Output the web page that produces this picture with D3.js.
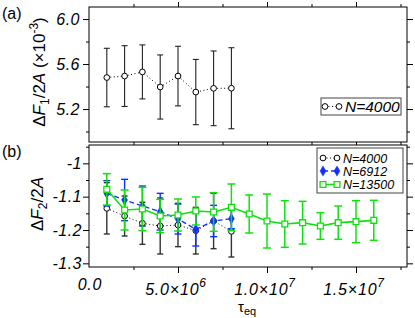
<!DOCTYPE html>
<html>
<head>
<meta charset="utf-8">
<script src="https://cdn.jsdelivr.net/npm/d3@7"></script>
<style>
  body { margin: 0; background: #fff; }
  svg text { font-family: "Liberation Sans", Arial, sans-serif; }
</style>
</head>
<body>
<div id="chart"></div>
<script>
// panel (a): N=4000, dF1/2A in units of 1e-3
const tauA = [1e6, 2e6, 3e6, 4e6, 5e6, 6e6, 7e6, 8e6];
const f1_4000 = [5.48, 5.493, 5.53, 5.396, 5.493, 5.351, 5.384, 5.385];
const f1_4000Err = [0.26, 0.27, 0.24, 0.285, 0.265, 0.29, 0.332, 0.36];

// panel (b): dF2/2A
const tau4000 = [1e6, 2e6, 3e6, 4e6, 5e6, 6e6, 7e6, 8e6];
const f2_4000 = [-1.135, -1.158, -1.18, -1.188, -1.185, -1.202, -1.173, -1.204];
const f2_4000Err = [0.077, 0.06, 0.063, 0.084, 0.065, 0.07, 0.083, 0.077];

const tau6912 = [1e6, 2e6, 3e6, 4e6, 5e6, 6e6, 7e6, 8e6];
const f2_6912 = [-1.09, -1.11, -1.128, -1.145, -1.167, -1.198, -1.173, -1.166];
const f2_6912Err = [0.038, 0.062, 0.06, 0.055, 0.045, 0.05, 0.047, 0.03];

const tau13500 = [1e6, 2e6, 3e6, 4e6, 5e6, 6e6, 7e6, 8e6, 9e6, 1e7, 1.1e7, 1.2e7, 1.3e7, 1.4e7, 1.5e7, 1.6e7];
const f2_13500 = [-1.078, -1.140, -1.137, -1.158, -1.155, -1.143, -1.146, -1.132, -1.152, -1.173, -1.182, -1.178, -1.188, -1.178, -1.175, -1.171];
const f2_13500Err = [0.047, 0.06, 0.065, 0.05, 0.048, 0.042, 0.058, 0.07, 0.057, 0.081, 0.07, 0.064, 0.04, 0.05, 0.063, 0.06];

const xMajor = [5e6, 1e7, 1.5e7];
const xMinor = [2.5e6, 7.5e6, 1.25e7, 1.75e7];
const yAMajor = [5.2, 5.6, 6.0];
const yAMinor = [5.0, 5.4, 5.8];
const yBMajor = [-1, -1.1, -1.2, -1.3];
const yBMinor = [-0.95, -1.05, -1.15, -1.25];

const width = 415, height = 318;
const left = 89, right = 407;
const topA = 7, botA = 142, topB = 145, botB = 267;

const green = "#10e010", blue = "#1030ff";

const svg = d3.select("#chart").append("svg")
    .attr("width", width)
    .attr("height", height);

const x = d3.scaleLinear().domain([0, 1.7865e7]).range([left, right]);
const yA = d3.scaleLinear().domain([4.907, 6.107]).range([botA, topA]);
const yB = d3.scaleLinear().domain([-1.311, -0.945]).range([botB, topB]);

// frames
svg.append("rect").attr("x", left).attr("y", topA).attr("width", right - left).attr("height", botA - topA)
    .attr("fill", "none").attr("stroke", "#000");
svg.append("rect").attr("x", left).attr("y", topB).attr("width", right - left).attr("height", botB - topB)
    .attr("fill", "none").attr("stroke", "#000");

// tick helper
function ticks(axis, vals, size, tx, ty) {
    const g = svg.append("g")
        .attr("transform", `translate(${tx},${ty})`)
        .call(axis.tickValues(vals).tickSize(size).tickFormat(""));
    g.select(".domain").remove();
    g.selectAll("line").attr("stroke", "#000");
    return g;
}

// panel a ticks
ticks(d3.axisLeft(yA), yAMajor, 6, left, 0);
ticks(d3.axisLeft(yA), yAMinor, 3, left, 0);
ticks(d3.axisRight(yA), yAMajor, 6, right, 0);
ticks(d3.axisRight(yA), yAMinor, 3, right, 0);
ticks(d3.axisTop(x), xMajor, 5, 0, topA);
ticks(d3.axisTop(x), xMinor, 3, 0, topA);
ticks(d3.axisBottom(x), xMajor.concat(xMinor), 3, 0, botA);

// panel b ticks
ticks(d3.axisLeft(yB), yBMajor, 6, left, 0);
ticks(d3.axisLeft(yB), yBMinor, 3, left, 0);
ticks(d3.axisRight(yB), yBMajor, 6, right, 0);
ticks(d3.axisRight(yB), yBMinor, 3, right, 0);
ticks(d3.axisBottom(x), xMajor, 6, 0, botB);
ticks(d3.axisBottom(x), xMinor, 3, 0, botB);

// y tick labels
svg.selectAll(".ya").data(yAMajor).enter().append("text")
    .attr("x", 80).attr("y", d => yA(d)).attr("dy", "0.36em")
    .attr("text-anchor", "end").attr("font-size", 16).attr("font-style", "italic")
    .attr("letter-spacing", 0.5)
    .text(d => d.toFixed(1));
svg.selectAll(".yb").data(yBMajor).enter().append("text")
    .attr("x", 82).attr("y", d => yB(d)).attr("dy", "0.36em")
    .attr("text-anchor", "end").attr("font-size", 16).attr("font-style", "italic")
    .attr("letter-spacing", 0.5)
    .text(d => d === -1 ? "-1" : "-" + Math.abs(d).toFixed(1));

// x tick labels
svg.append("text").attr("x", x(0) + 1).attr("y", 290)
    .attr("text-anchor", "middle").attr("font-size", 16).attr("font-style", "italic")
    .attr("letter-spacing", 0.8).text("0.0");
const xLab = [[5e6, "5.0", "6"], [1e7, "1.0", "7"], [1.5e7, "1.5", "7"]];
xLab.forEach(([v, m, e]) => {
    const t = svg.append("text").attr("x", x(v) - 2).attr("y", 295)
        .attr("text-anchor", "middle").attr("font-size", 16).attr("font-style", "italic")
        .attr("letter-spacing", 0.8);
    t.append("tspan").text(m + "\u00d710");
    t.append("tspan").attr("dy", -8).attr("font-size", 12).text(e);
});

// axis titles
const ta = svg.append("text").attr("transform", "translate(45,72) rotate(-90)")
    .attr("text-anchor", "middle").attr("font-size", 17);
ta.append("tspan").text("\u0394");
ta.append("tspan").attr("font-style", "italic").text("F");
ta.append("tspan").attr("font-size", 12).attr("dy", 4).text("1");
ta.append("tspan").attr("dy", -4).text("/2");
ta.append("tspan").attr("font-style", "italic").text("A");
ta.append("tspan").text(" (\u00d710");
ta.append("tspan").attr("font-size", 12).attr("dy", -7).text("-3");
ta.append("tspan").attr("dy", 7).text(")");

const tb = svg.append("text").attr("transform", "translate(43,204) rotate(-90)")
    .attr("text-anchor", "middle").attr("font-size", 17);
tb.append("tspan").text("\u0394");
tb.append("tspan").attr("font-style", "italic").text("F");
tb.append("tspan").attr("font-size", 12).attr("dy", 4).text("2");
tb.append("tspan").attr("dy", -4).text("/2");
tb.append("tspan").attr("font-style", "italic").text("A");

const tx = svg.append("text").attr("x", 238).attr("y", 312).attr("font-size", 15);
tx.append("tspan").text("\u03c4");
tx.append("tspan").attr("font-size", 11).attr("dy", 3).text("eq");

svg.append("text").attr("x", 2).attr("y", 19).attr("font-size", 16).text("(a)");
svg.append("text").attr("x", 2).attr("y", 157).attr("font-size", 16).text("(b)");

// series drawing
function series(ts, vs, es, y, opt) {
    const pts = ts.map((t, i) => ({ t: t, v: vs[i], e: es[i] }));
    const g = svg.append("g");
    g.append("path").datum(pts)
        .attr("fill", "none").attr("stroke", opt.color).attr("stroke-width", opt.lw)
        .attr("stroke-dasharray", opt.dash)
        .attr("d", d3.line().x(d => x(d.t)).y(d => y(d.v)));
    const eb = g.selectAll(".eb").data(pts).enter().append("g")
        .attr("stroke", opt.ecolor).attr("stroke-width", opt.elw);
    eb.append("line").attr("x1", d => x(d.t)).attr("x2", d => x(d.t))
        .attr("y1", d => y(d.v - d.e)).attr("y2", d => y(d.v + d.e));
    eb.append("line").attr("x1", d => x(d.t) - opt.cap).attr("x2", d => x(d.t) + opt.cap)
        .attr("y1", d => y(d.v - d.e)).attr("y2", d => y(d.v - d.e));
    eb.append("line").attr("x1", d => x(d.t) - opt.cap).attr("x2", d => x(d.t) + opt.cap)
        .attr("y1", d => y(d.v + d.e)).attr("y2", d => y(d.v + d.e));
    g.selectAll(".m").data(pts).enter().append("path")
        .attr("transform", d => `translate(${x(d.t)},${y(d.v)})`)
        .attr("d", opt.symbol)
        .attr("fill", opt.fill).attr("stroke", opt.color).attr("stroke-width", opt.mlw);
}

const circ = d3.symbol(d3.symbolCircle, 26)();
const sq = d3.symbol(d3.symbolSquare, 34)();
const diam = d3.symbol(d3.symbolDiamond, 30)();

const st4000 = { color: "#000", ecolor: "#222", lw: 1, elw: 1.1, dash: "1,2.5", cap: 3, symbol: circ, fill: "#fff", mlw: 1 };
const st4000b = Object.assign({}, st4000, { ecolor: "#333", elw: 1.4 });
const st6912 = { color: blue, ecolor: blue, lw: 1.3, elw: 1.4, dash: "5,3", cap: 3.5, symbol: diam, fill: blue, mlw: 0.5 };
const st13500 = { color: green, ecolor: green, lw: 1.6, elw: 1.5, dash: null, cap: 4, symbol: sq, fill: "#fff", mlw: 1.3 };

series(tauA, f1_4000, f1_4000Err, yA, st4000);
series(tau4000, f2_4000, f2_4000Err, yB, st4000b);
series(tau6912, f2_6912, f2_6912Err, yB, st6912);
series(tau13500, f2_13500, f2_13500Err, yB, st13500);

// legends
function legendRow(lx, ly, opt, label, fs) {
    svg.append("line").attr("x1", lx).attr("x2", lx + 14).attr("y1", ly).attr("y2", ly)
        .attr("stroke", opt.color).attr("stroke-width", opt.lw).attr("stroke-dasharray", opt.dash);
    [lx, lx + 14].forEach(px => {
        svg.append("path").attr("transform", `translate(${px},${ly})`).attr("d", opt.symbol)
            .attr("fill", opt.fill).attr("stroke", opt.color).attr("stroke-width", opt.mlw);
    });
    svg.append("text").attr("x", lx + 20).attr("y", ly).attr("dy", "0.36em")
        .attr("font-size", fs).attr("font-style", "italic").text(label);
}

svg.append("rect").attr("x", 321).attr("y", 98).attr("width", 80).attr("height", 17)
    .attr("fill", "#fff").attr("stroke", "#444");
legendRow(325, 106.5, st4000, "N=4000", 15.5);

svg.append("rect").attr("x", 317).attr("y", 148).attr("width", 86).attr("height", 45)
    .attr("fill", "#fff").attr("stroke", "#444");
legendRow(323, 158, st4000, "N=4000", 12.5);
legendRow(323, 171, st6912, "N=6912", 12.5);
legendRow(323, 184.5, st13500, "N=13500", 12.5);
</script>
</body>
</html>
